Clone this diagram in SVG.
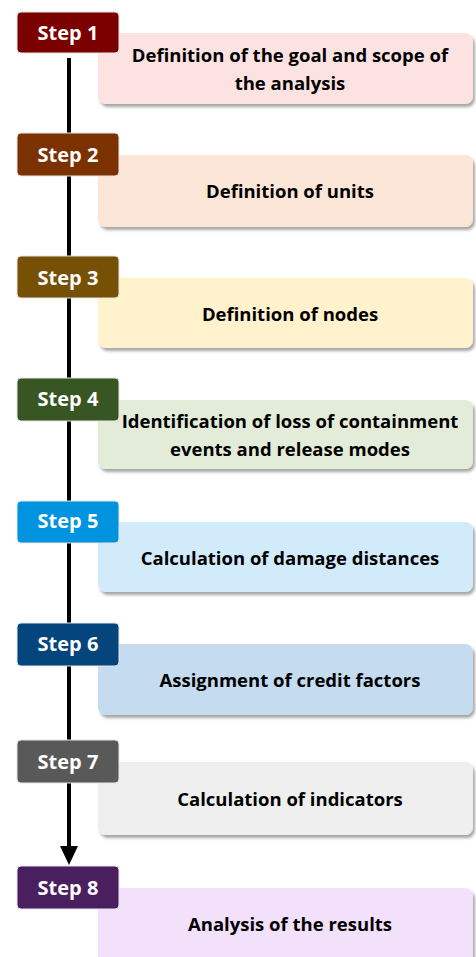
<svg xmlns="http://www.w3.org/2000/svg" width="476" height="957" viewBox="0 0 476 957">
  <defs>
    <filter id="shadow" x="-5%" y="-10%" width="115%" height="140%">
      <feGaussianBlur in="SourceAlpha" stdDeviation="1.6"/>
      <feOffset dx="1.5" dy="3" result="b"/>
      <feFlood flood-color="#000" flood-opacity="0.35"/>
      <feComposite in2="b" operator="in"/>
      <feMerge><feMergeNode/><feMergeNode in="SourceGraphic"/></feMerge>
    </filter>
    <marker id="arrow" markerUnits="userSpaceOnUse" markerWidth="20" markerHeight="20" refX="0" refY="9" orient="auto">
      <path d="M0,0 L19,9 L0,18 Z" fill="#000"/>
    </marker>
  </defs>
  <style>
    .step rect { stroke: #e6e6e6; stroke-width: 1; }
    .step text { font-family: "Open Sans", "Liberation Sans", sans-serif; font-weight: 700; font-size: 20px; fill: #fff; text-anchor: middle; }
    .box rect { filter: url(#shadow); }
    .box text { font-family: "Open Sans", "Liberation Sans", sans-serif; font-weight: 700; font-size: 18.5px; fill: #000; text-anchor: middle; }
  </style>
  <rect width="476" height="957" fill="#fff"/>

  <!-- timeline spine -->
  <g id="connectors">
    <line x1="69" y1="58" x2="69" y2="846" stroke="#000" stroke-width="4" marker-end="url(#arrow)"/>
  </g>

  <!-- step descriptions -->
  <g id="box1" class="box">
    <rect x="98" y="33" width="375" height="71" rx="8" fill="#fde2e2"/>
    <text x="290" y="62">Definition of the goal and scope of</text>
    <text x="290" y="90">the analysis</text>
  </g>
  <g id="box2" class="box">
    <rect x="98" y="155" width="375" height="72" rx="8" fill="#fce6d8"/>
    <text x="290" y="198">Definition of units</text>
  </g>
  <g id="box3" class="box">
    <rect x="98" y="278" width="375" height="70" rx="8" fill="#fff2cc"/>
    <text x="290" y="321">Definition of nodes</text>
  </g>
  <g id="box4" class="box">
    <rect x="98" y="400" width="375" height="69" rx="8" fill="#e3ecd9"/>
    <text x="290" y="428">Identification of loss of containment</text>
    <text x="290" y="456">events and release modes</text>
  </g>
  <g id="box5" class="box">
    <rect x="98" y="522" width="375" height="70" rx="8" fill="#d2ebfa"/>
    <text x="290" y="565">Calculation of damage distances</text>
  </g>
  <g id="box6" class="box">
    <rect x="98" y="644" width="375" height="71" rx="8" fill="#c5dbef"/>
    <text x="290" y="687">Assignment of credit factors</text>
  </g>
  <g id="box7" class="box">
    <rect x="98" y="762" width="375" height="73" rx="8" fill="#efefef"/>
    <text x="290" y="806">Calculation of indicators</text>
  </g>
  <g id="box8" class="box">
    <rect x="98" y="888" width="375" height="80" rx="8" fill="#f3e0fb"/>
    <text x="290" y="931">Analysis of the results</text>
  </g>

  <!-- step badges -->
  <g id="step1" class="step">
    <rect x="17" y="12" width="102" height="41" rx="4" fill="#7b0000"/>
    <text x="68" y="40">Step 1</text>
  </g>
  <g id="step2" class="step">
    <rect x="17" y="133" width="102" height="43" rx="4" fill="#7b3200"/>
    <text x="68" y="162">Step 2</text>
  </g>
  <g id="step3" class="step">
    <rect x="17" y="256" width="102" height="42" rx="4" fill="#765005"/>
    <text x="68" y="285">Step 3</text>
  </g>
  <g id="step4" class="step">
    <rect x="17" y="378" width="102" height="43" rx="4" fill="#375623"/>
    <text x="68" y="406">Step 4</text>
  </g>
  <g id="step5" class="step">
    <rect x="17" y="501" width="102" height="42" rx="4" fill="#0093e0"/>
    <text x="68" y="528">Step 5</text>
  </g>
  <g id="step6" class="step">
    <rect x="17" y="623" width="102" height="43" rx="4" fill="#03457c"/>
    <text x="68" y="651">Step 6</text>
  </g>
  <g id="step7" class="step">
    <rect x="17" y="740" width="102" height="43" rx="4" fill="#595959"/>
    <text x="68" y="769">Step 7</text>
  </g>
  <g id="step8" class="step">
    <rect x="17" y="866" width="102" height="43" rx="4" fill="#4a1f60"/>
    <text x="68" y="895">Step 8</text>
  </g>
</svg>
